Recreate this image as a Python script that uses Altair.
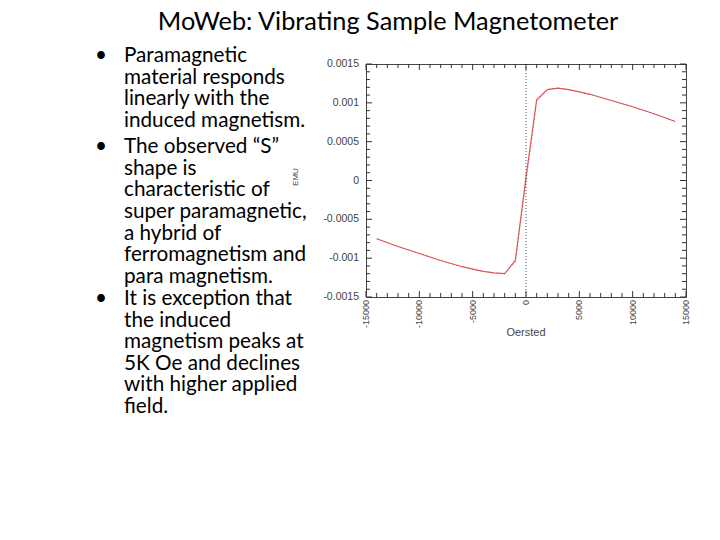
import altair as alt
import pandas as pd

# ---- data ----
title_text = "MoWeb:  Vibrating Sample Magnetometer"
bullet_1 = ["Paramagnetic", "material responds", "linearly with the", "induced magnetism."]
bullet_2 = ["The observed \u201cS\u201d", "shape is", "characteristic of", "super paramagnetic,",
            "a hybrid of", "ferromagnetism and", "para magnetism."]
bullet_3 = ["It is exception that", "the induced", "magnetism peaks at", "5K Oe and declines",
            "with higher applied", "field."]

field_oe = [-14000, -12000, -10000, -8000, -6000, -5000, -4000, -3000, -2000, -1000, 0,
            1000, 2000, 3000, 4000, 5000, 6000, 8000, 10000, 12000, 14000]
moment_a = [-0.00075, -0.00085, -0.00094, -0.00103, -0.00111, -0.00114, -0.00117, -0.00119,
            -0.00120, -0.00103, 0.00004, 0.00104, 0.00117, 0.00119, 0.00117, 0.00114,
            0.00111, 0.00103, 0.00095, 0.00086, 0.00076]
moment_b = [-0.00075, -0.00085, -0.00094, -0.00103, -0.00111, -0.00114, -0.00117, -0.00119,
            -0.00120, -0.00105, -0.00003, 0.00101, 0.00117, 0.00119, 0.00117, 0.00114,
            0.00111, 0.00103, 0.00095, 0.00086, 0.00076]

x_labels = [-15000, -10000, -5000, 0, 5000, 10000, 15000]
y_labels = [-0.0015, -0.001, -0.0005, 0, 0.0005, 0.001, 0.0015]
x_title = "Oersted"
y_title = "EMU"
x_major = [-15000, -10000, -5000, 0, 5000, 10000, 15000]
x_minor = [v for v in range(-15000, 15001, 1000) if v % 5000 != 0]
y_major = [-0.0015, -0.001, -0.0005, 0.0, 0.0005, 0.001, 0.0015]
y_minor = [round(i * 0.0001, 4) for i in range(-15, 16) if i % 5 != 0]
zero_line = [0]

W, H = 320, 233
MAJ, MIN = 6, 4
AX_FONT = "Liberation Sans"
AX_COLOR = "#444"

xs = alt.Scale(domain=[-15000, 15000], nice=False, zero=False)
ys = alt.Scale(domain=[-0.0015, 0.0015], nice=False, zero=False)


def X(field):
    return alt.X(field, scale=xs, axis=None)


def Y(field):
    return alt.Y(field, scale=ys, axis=None)


df_a = pd.DataFrame({"Oersted": field_oe, "EMU": moment_a})
df_b = pd.DataFrame({"Oersted": field_oe, "EMU": moment_b})

line_a = alt.Chart(df_a).mark_line(color="#e25a5a", strokeWidth=1.2).encode(
    x=X("Oersted:Q"), y=Y("EMU:Q"))
line_b = alt.Chart(df_b).mark_line(color="#a04040", strokeWidth=0.6, strokeDash=[2, 2],
                                   opacity=0.6).encode(x=X("Oersted:Q"), y=Y("EMU:Q"))

zero_rule = alt.Chart(pd.DataFrame({"v": zero_line})).mark_rule(
    color="#222", strokeWidth=0.8, strokeDash=[1, 2]).encode(x=X("v:Q"))

# tick labels as text through the scales
ylab_df = pd.DataFrame({"v": y_labels, "lbl": [str(v) for v in y_labels]})
ylabels = alt.Chart(ylab_df).mark_text(font=AX_FONT, fontSize=10.5, color=AX_COLOR,
                                       align="right", baseline="middle").encode(
    y=Y("v:Q"), x=alt.value(-7), text="lbl:N")
xlab_df = pd.DataFrame({"v": x_labels, "lbl": [str(v) for v in x_labels]})
xlabels = alt.Chart(xlab_df).mark_text(font=AX_FONT, fontSize=9, color=AX_COLOR, angle=270,
                                       align="right", baseline="middle").encode(
    x=X("v:Q"), y=alt.value(H + 3), text="lbl:N")

one = pd.DataFrame({"k": [0]})
ytitle = alt.Chart(one).mark_text(font=AX_FONT, fontSize=8, color=AX_COLOR, angle=270,
                                  align="center", baseline="middle").encode(
    x=alt.value(-70), y=alt.value(113), text=alt.value(y_title))
xtitle = alt.Chart(one).mark_text(font=AX_FONT, fontSize=11, color=AX_COLOR,
                                  align="center", baseline="middle").encode(
    x=alt.value(160), y=alt.value(269), text=alt.value(x_title))


def xticks(vals, length):
    d = pd.DataFrame({"v": vals})
    bot = alt.Chart(d).mark_rule(color="#333", strokeWidth=1).encode(
        x=X("v:Q"), y=alt.value(H), y2=alt.value(H - length))
    top = alt.Chart(d).mark_rule(color="#333", strokeWidth=1).encode(
        x=X("v:Q"), y=alt.value(0), y2=alt.value(length))
    return [bot, top]


def yticks(vals, length):
    d = pd.DataFrame({"v": vals})
    left = alt.Chart(d).mark_rule(color="#333", strokeWidth=1).encode(
        y=Y("v:Q"), x=alt.value(0), x2=alt.value(length))
    right = alt.Chart(d).mark_rule(color="#333", strokeWidth=1).encode(
        y=Y("v:Q"), x=alt.value(W), x2=alt.value(W - length))
    return [left, right]


TXT_FONT = "Lato"
title = alt.Chart(one).mark_text(font=TXT_FONT, fontSize=25.3, align="center",
                                 baseline="alphabetic", color="black").encode(
    x=alt.value(22), y=alt.value(-34.5), text=alt.value(title_text))


def para(lines, y):
    t = alt.Chart(one).mark_text(font=TXT_FONT, fontSize=20.7, align="left",
                                 baseline="alphabetic", lineHeight=21.6, color="black").encode(
        x=alt.value(-242), y=alt.value(y), text=alt.value(lines))
    b = alt.Chart(one).mark_text(font=TXT_FONT, fontSize=20.7, align="center",
                                 baseline="alphabetic", color="black").encode(
        x=alt.value(-265), y=alt.value(y), text=alt.value("\u2022"))
    return [t, b]


layers = [line_a, line_b, zero_rule]
layers += xticks(x_major, MAJ) + xticks(x_minor, MIN)
layers += yticks(y_major, MAJ) + yticks(y_minor, MIN)
layers += [ylabels, xlabels, ytitle, xtitle, title]
layers += para(bullet_1, -2) + para(bullet_2, 89.3) + para(bullet_3, 241)

chart = alt.layer(*layers).properties(
    width=W, height=H,
    padding={"left": 358, "top": 56, "right": 26, "bottom": 235},
    autosize=alt.AutoSizeParams(type="none"),
    background="white",
).configure_view(stroke="#444", strokeWidth=1)

chart.save("out.html", embed_options={"renderer": "svg", "actions": False})
